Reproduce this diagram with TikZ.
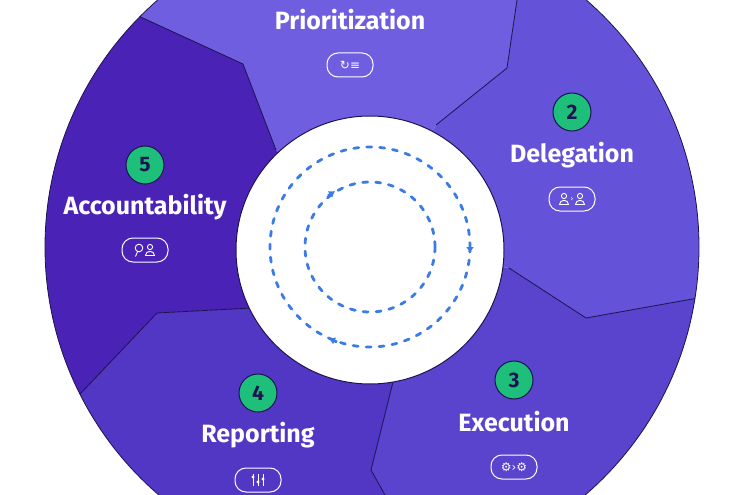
\documentclass[tikz,border=0pt]{standalone}
\usepackage{fontspec}
\setmainfont{Fira Sans}
\newfontfamily\symfont{DejaVu Sans}
\usetikzlibrary{arrows.meta,positioning}

\definecolor{segA}{HTML}{6F5FE0}
\definecolor{segB}{HTML}{6452D8}
\definecolor{segC}{HTML}{5A43CD}
\definecolor{segD}{HTML}{5236C4}
\definecolor{segE}{HTML}{4A22B5}
\definecolor{edge}{HTML}{1B1450}
\definecolor{badge}{HTML}{1DBF7A}
\definecolor{ringblue}{HTML}{3B7BE8}

\tikzset{
  steplabel/.style={font=\bfseries\fontsize{25}{27}\selectfont, text=white},
  stepnum/.style={circle, fill=badge, draw=edge, line width=1pt, minimum size=38pt,
    inner sep=0pt, font=\bfseries\fontsize{21}{22}\selectfont, text=edge},
  pill/.style={draw=white, line width=1pt, rounded corners=11pt, minimum width=46pt,
    minimum height=24pt, inner sep=0pt, text=white, font=\symfont\fontsize{12}{12}\selectfont},
  ring/.style={ringblue, line width=2.8pt, line cap=round, dash pattern=on 5pt off 8pt},
  tip/.style={ringblue, line width=2.8pt, -{Latex[length=6pt,width=8pt]}},
  person/.pic={
    \draw[white, line width=0.9pt] (0,-3) circle (2.6pt);
    \draw[white, line width=0.9pt] (-4.5,5.5) .. controls (-4.5,0) and (4.5,0) .. (4.5,5.5) -- cycle;
  }
}

\begin{document}
\begin{tikzpicture}[x=1pt,y=-1pt]
  \useasboundingbox (0,0) rectangle (740,495);
  \clip (0,0) rectangle (740,495);
  \coordinate (c) at (372,247);

  % segments of the wheel
  \begin{scope}
    \clip (c) circle (327);
    \fill[segA] (c) -- (276,150) -- (243,64) -- (60,-20) -- (60,-200) -- (522,-200)
      -- (522,-40) -- (517,0) -- (507,68) -- (436,125) -- cycle;
    \fill[segB] (c) -- (436,125) -- (507,68) -- (517,0) -- (522,-40) -- (522,-200)
      -- (800,-200) -- (800,287) -- (760,287) -- (698,298) -- (586,318) -- (509,268) -- cycle;
    \fill[segC] (c) -- (509,268) -- (586,318) -- (698,298) -- (760,287) -- (800,287)
      -- (800,600) -- (400,600) -- (400,530) -- (385,495) -- (371,470) -- (393,382) -- cycle;
    \fill[segD] (c) -- (393,382) -- (371,470) -- (385,495) -- (400,530) -- (400,600)
      -- (-100,600) -- (-100,480) -- (30,447) -- (81,393) -- (157,313) -- (252,308) -- cycle;
    \fill[segE] (c) -- (252,308) -- (157,313) -- (81,393) -- (30,447) -- (-100,480)
      -- (-100,-20) -- (60,-20) -- (143,18) -- (243,64) -- (276,150) -- cycle;
    \draw[edge, line width=0.8pt] (276,150) -- (243,64) -- (60,-20);
    \draw[edge, line width=0.8pt] (436,125) -- (507,68) -- (517,0) -- (522,-40);
    \draw[edge, line width=0.8pt] (509,268) -- (586,318) -- (698,298) -- (760,287);
    \draw[edge, line width=0.8pt] (393,382) -- (371,470) -- (385,495) -- (400,530);
    \draw[edge, line width=0.8pt] (252,308) -- (157,313) -- (81,393) -- (30,447);
  \end{scope}
  \draw[edge, line width=0.8pt] (c) circle (327);

  % hub
  \node[circle, fill=white, draw=edge, line width=1pt, minimum size=268pt] (hub) at (370,250) {};
  \draw[ring] (370,247) circle (100);
  \draw[ring] (370,247) circle (65);
  \draw[tip] (470,243) -- (470,253);
  \draw[tip] (337,342) -- (329,338.5);
  \draw[tip] (328,196) -- (335,191);

  % steps
  \node[steplabel] (prio) at (350,20) {Prioritization};
  \node[pill] (prioicon) at (350,65) {↻≡};

  \node[stepnum] (num2) at (572,112) {2};
  \node[steplabel] (dele) at (572,155) {Delegation};
  \node[pill] (deleicon) at (572,199) {};
  \pic at ([xshift=-8pt]deleicon.center) {person};
  \node[text=white, font=\symfont\fontsize{8}{8}\selectfont] at (deleicon.center) {›};
  \pic at ([xshift=8pt]deleicon.center) {person};

  \node[stepnum] (num3) at (514,380) {3};
  \node[steplabel] (exec) at (514,422) {Execution};
  \node[pill] (execicon) at (514,467) {⚙›⚙};

  \node[stepnum] (num4) at (258,393) {4};
  \node[steplabel] (repo) at (258,435) {Reporting};
  \node[pill] (repoicon) at (258,480) {};
  \foreach \dx/\dy in {-5/3, 0/-2, 5/1} {
    \draw[white, line width=0.8pt] ([xshift=\dx pt, yshift=-6pt]repoicon.center) -- ([xshift=\dx pt, yshift=6pt]repoicon.center);
    \fill[white] ([xshift=\dx pt, yshift=\dy pt]repoicon.center) circle (1.6pt);
  }

  \node[stepnum] (num5) at (145,165) {5};
  \node[steplabel] (acco) at (145,207) {Accountability};
  \node[pill] (accoicon) at (145,250) {};
  \draw[white, line width=0.9pt] ([xshift=-6pt, yshift=2pt]accoicon.center) circle (3.8pt)
    ([xshift=-7.5pt, yshift=-1.8pt]accoicon.center) -- ([xshift=-9.5pt, yshift=-6.5pt]accoicon.center);
  \pic at ([xshift=5pt]accoicon.center) {person};
\end{tikzpicture}
\end{document}
